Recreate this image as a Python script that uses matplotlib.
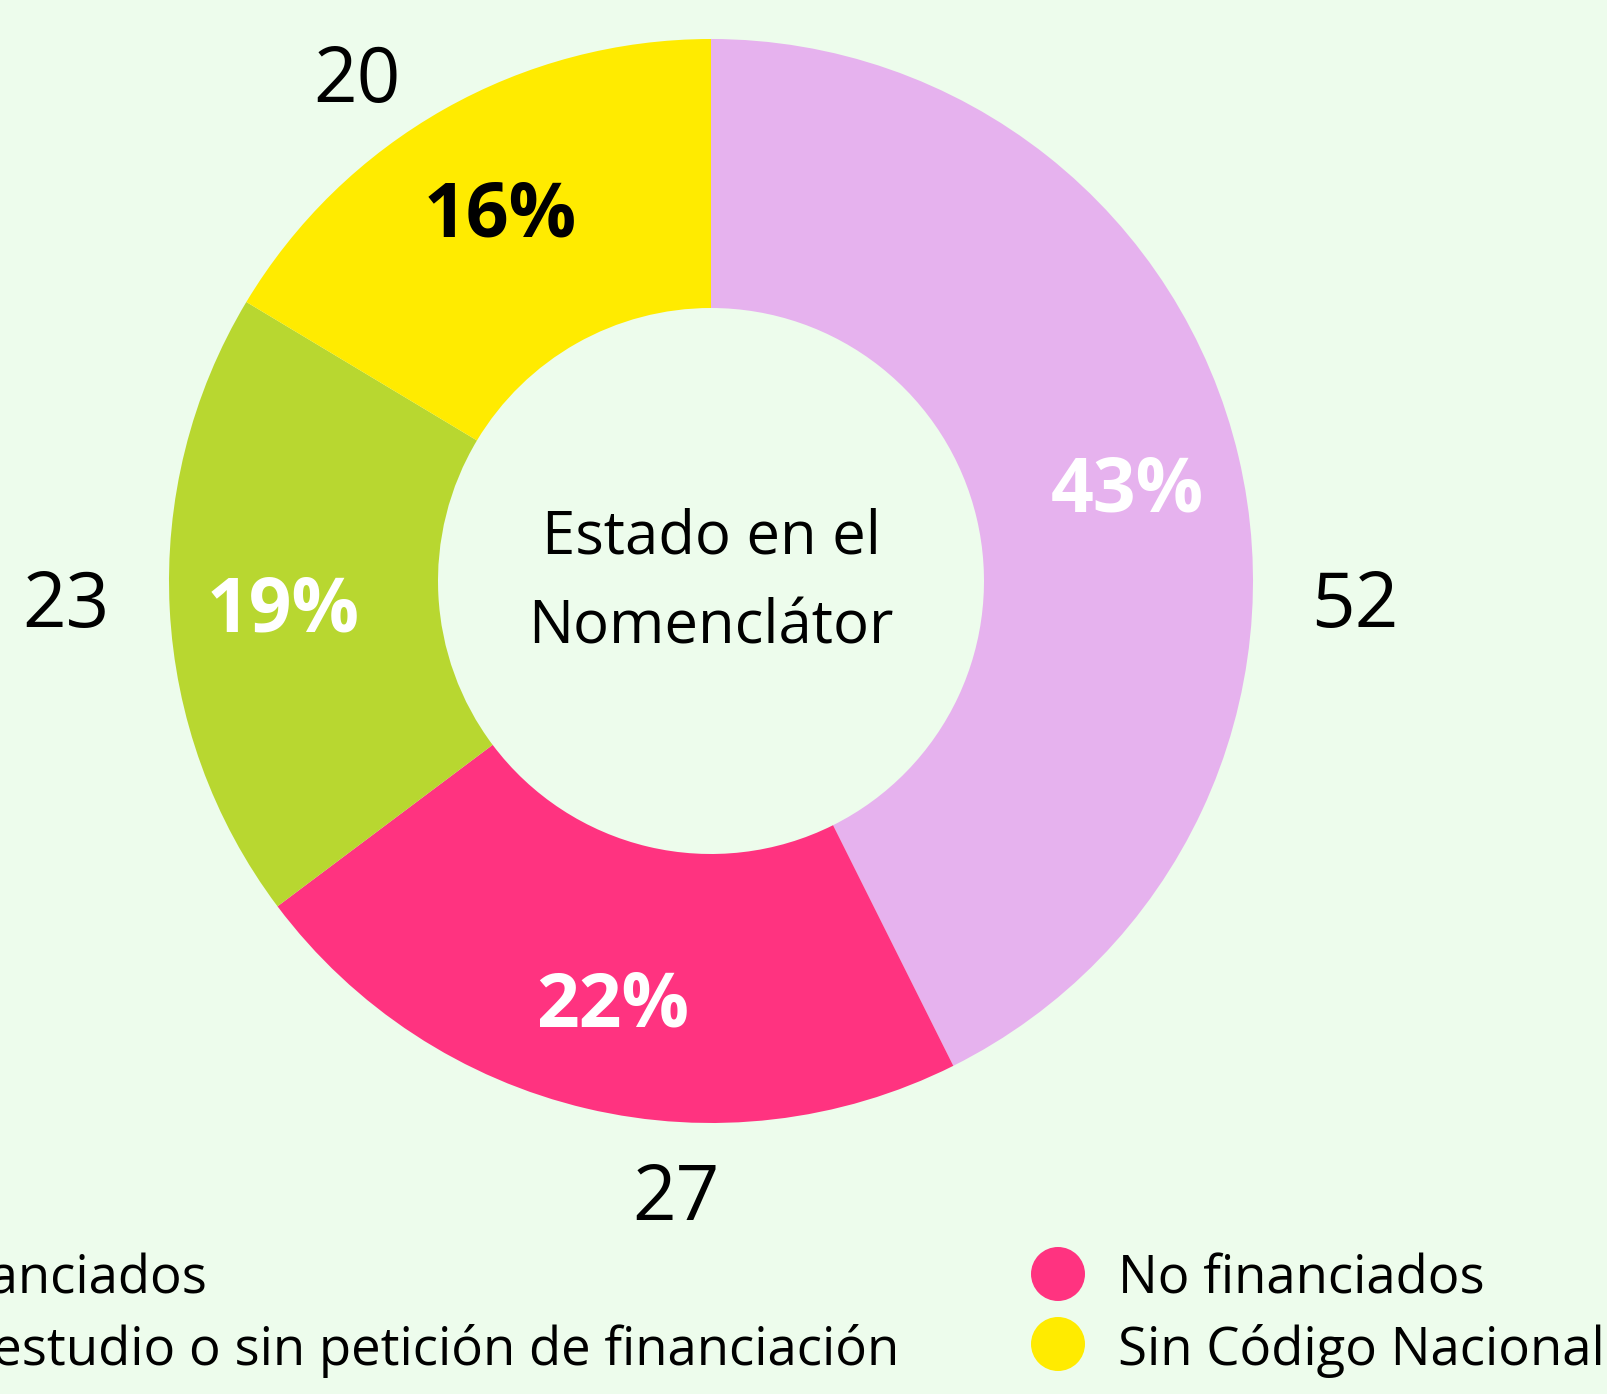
import numpy as np
import matplotlib
matplotlib.use("Agg")
import matplotlib.pyplot as plt

# ---- data ----
categories = ["Financiados", "No financiados",
              "En estudio o sin petición de financiación", "Sin Código Nacional"]
values = [52, 27, 23, 20]
colors = ["#E6B2EE", "#FF3380", "#B8D730", "#FFEB00"]
pct_text_colors = ["white", "white", "white", "black"]
center_title = "Estado en el\nNomenclátor"

W, H = 1607, 1394
BG = "#EDFCEC"
FONT = "Open Sans"

fig = plt.figure(figsize=(W / 100, H / 100), dpi=100, facecolor=BG)
ax = fig.add_axes([0, 0, 1, 1])
ax.set_xlim(0, W)
ax.set_ylim(0, H)
ax.set_aspect("equal")
ax.axis("off")

def Y(y):  # image-y to data-y
    return H - y

cx, cy = 711, Y(581)
R_out, R_in = 542, 273
wedges, _ = ax.pie(values, colors=colors, startangle=90, counterclock=False,
                   radius=R_out, center=(cx, cy),
                   wedgeprops=dict(width=R_out - R_in, linewidth=0))
ax.set_xlim(0, W)
ax.set_ylim(0, H)

total = sum(values)
# percentage labels at wedge mid-angle
for w, v, tc in zip(wedges, values, pct_text_colors):
    mid = np.deg2rad((w.theta1 + w.theta2) / 2)
    r = 0.79 * R_out
    ax.text(cx + r * np.cos(mid), cy + r * np.sin(mid), f"{round(100 * v / total)}%",
            ha="center", va="center_baseline", fontsize=54, fontweight="bold",
            color=tc, family=FONT)

# value labels outside (layout positions, baseline)
value_label_pos = [(1355, 627), (676, 1220), (66, 627), (357, 102)]
for (x, y), v in zip(value_label_pos, values):
    ax.text(x, Y(y), str(v), ha="center", va="baseline", fontsize=55,
            color="black", family=FONT)

# center title
lines = center_title.split("\n")
for ln, yb in zip(lines, [553, 643]):
    ax.text(cx, Y(yb), ln, ha="center", va="baseline", fontsize=43,
            color="black", family=FONT)

# legend (row-major, two columns, left column clipped by figure edge)
fig.canvas.draw()
renderer = fig.canvas.get_renderer()
leg_fs = 38
probe = ax.text(0, 0, categories[2], fontsize=leg_fs, family=FONT)
wpx = probe.get_window_extent(renderer).width
probe.remove()
left_text_x = 899 - wpx
right_text_x = 1118
col_text_x = [left_text_x, right_text_x]
row_base = [1293, 1365]
row_mark = [1274, 1344]
for i, (cat, col) in enumerate(zip(categories, colors)):
    r, c = divmod(i, 2)
    tx = col_text_x[c]
    ax.add_patch(plt.Circle((tx - 60, Y(row_mark[r])), 27, color=col, lw=0))
    ax.text(tx, Y(row_base[r]), cat, ha="left", va="baseline", fontsize=leg_fs,
            color="black", family=FONT)

fig.savefig("out.png", dpi=100, facecolor=BG)
